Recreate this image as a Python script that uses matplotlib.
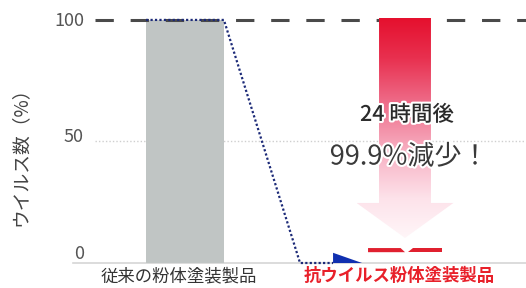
import matplotlib
matplotlib.use("Agg")
import matplotlib.pyplot as plt
import numpy as np
from matplotlib.patches import Polygon
from matplotlib.colors import LinearSegmentedColormap
from matplotlib.transforms import ScaledTranslation
import matplotlib.patheffects as pe

plt.rcParams['font.family'] = ['Noto Sans CJK JP', 'DejaVu Sans']

# ---- data ----
categories = ["従来の粉体塗装製品", "抗ウイルス粉体塗装製品"]
conventional = [100]          # virus count (%) for conventional product
anti_level = [5.3]            # level drawn for anti-viral product (99.9% reduction)
yticks = [0, 50, 100]
decay_x = [-0.177, 0.177, 0.523, 0.673]   # trend line (position)
decay_y = [100, 100, 0, 0]                 # trend line (%)
reduction_text = "99.9%減少！"
time_text = "24 時間後"
ylabel = "ウイルス数（%）"

fig = plt.figure(figsize=(5.26, 2.88), dpi=100)
ax = fig.add_axes([95/526, 25/288, 431/526, 263/288])
ax.set_xlim(-0.409, 1.55)
ax.set_ylim(0, 108.2)
for s in ax.spines.values():
    s.set_visible(False)

# grid at 50 and baseline
ax.axhline(50, color='#cfcfcf', lw=1.0, ls=(0, (1, 1.5)), zorder=0)
ax.plot([-0.51, 1.55], [0, 0], color='#d6d6d6', lw=1.2, clip_on=False, zorder=0)

# gray bar
ax.bar([0], conventional, width=0.355, color='#c0c5c4', zorder=1)

# dashed 100 line
ax.axhline(100, color='#4a4a4a', lw=2.2, ls=(0, (6, 5.5)), zorder=2)

# red gradient arrow
cx = 1.0
shaft_hw, head_hw = 0.118, 0.22
head_base, tip = 24.7, 10.3
top = conventional[0] + 0.8
verts = [(cx - shaft_hw, top), (cx + shaft_hw, top), (cx + shaft_hw, head_base),
         (cx + head_hw, head_base), (cx, tip), (cx - head_hw, head_base),
         (cx - shaft_hw, head_base)]
arrow = Polygon(verts, closed=True, facecolor='none', edgecolor='none')
ax.add_patch(arrow)
cmap = LinearSegmentedColormap.from_list(
    'redfade', [(0.0, '#fff6f8'), (0.18, '#fde2ea'), (0.4, '#f7aec1'),
                (0.62, '#ee6b88'), (0.82, '#e8304f'), (1.0, '#e5102e')])
grad = np.linspace(0, 1, 256).reshape(-1, 1)
im = ax.imshow(grad, cmap=cmap, origin='lower', aspect='auto',
               extent=[cx - head_hw, cx + head_hw, tip, top], zorder=3)
im.set_clip_path(arrow)

# red remaining-level marker (notched)
lvl = anti_level[0]
th = 1.7
left_piece = [(cx - 0.168, lvl - th/2), (cx, lvl - th/2), (cx - 0.02, lvl + th/2), (cx - 0.168, lvl + th/2)]
right_piece = [(cx + 0.012, lvl - th/2), (cx + 0.17, lvl - th/2), (cx + 0.17, lvl + th/2), (cx + 0.035, lvl + th/2)]
for pc in (left_piece, right_piece):
    ax.add_patch(Polygon(pc, closed=True, facecolor='#e0202f', edgecolor='none', zorder=4))

# dotted decay line + arrowhead
ax.plot(decay_x, decay_y, color='#1c2a78', lw=1.6, ls=(0, (1, 1)), zorder=4, clip_on=False)
ex = decay_x[-1]
head = Polygon([(ex, decay_y[-1]), (ex, decay_y[-1] + 4.2), (ex + 0.132, decay_y[-1])],
               closed=True, facecolor='#1030b0', edgecolor='none', zorder=5, clip_on=False)
ax.add_patch(head)

# texts
halo = [pe.withStroke(linewidth=3, foreground='white')]
ax.text(1.009, 60.9, time_text, ha='center', va='center', fontsize=15.5,
        fontweight='medium', color='#2a2a2a', path_effects=halo, zorder=6)
ax.text(1.02, 43.6, reduction_text, ha='center', va='center', fontsize=19.5,
        color='#3a3a3a', path_effects=halo, zorder=6)

# y ticks
ax.set_yticks(yticks)
ax.set_yticklabels([str(v) for v in yticks], fontsize=13, color='#555555')
ax.tick_params(axis='y', length=0, pad=8)
offsets = {0: 11, 50: 6, 100: 1}
for v, lab in zip(yticks, ax.get_yticklabels()):
    lab.set_transform(lab.get_transform() + ScaledTranslation(0, offsets[v]/100, fig.dpi_scale_trans))

# x ticks
ax.set_xticks([0, 1])
ax.set_xticklabels(categories, fontsize=12.5)
ax.tick_params(axis='x', length=0, pad=3)
xl = ax.get_xticklabels()
xl[0].set_color('#333333')
xl[1].set_color('#e8202a')
xl[1].set_fontweight('bold')
for lab in xl:
    lab.set_transform(lab.get_transform() + ScaledTranslation(-6/100, 0, fig.dpi_scale_trans))

fig.text(20/526, 1 - 152/288, ylabel, rotation=90, ha='center', va='center',
         fontsize=13.5, color='#444444')

fig.savefig('out.png', dpi=100)
